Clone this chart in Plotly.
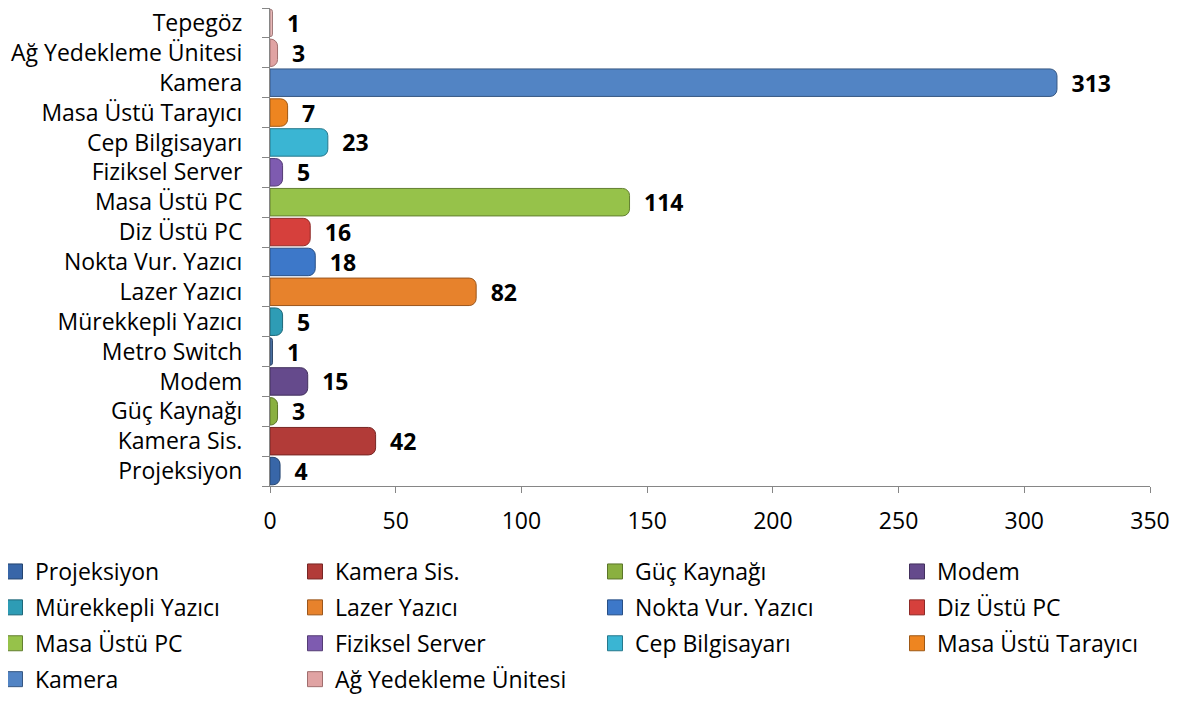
import plotly.graph_objects as go

categories = ["Projeksiyon", "Kamera Sis.", "Güç Kaynağı", "Modem", "Metro Switch",
              "Mürekkepli Yazıcı", "Lazer Yazıcı", "Nokta Vur. Yazıcı", "Diz Üstü PC",
              "Masa Üstü PC", "Fiziksel Server", "Cep Bilgisayarı", "Masa Üstü Tarayıcı",
              "Kamera", "Ağ Yedekleme Ünitesi", "Tepegöz"]
# bar lengths as drawn in the picture
bar_values = [4, 42, 3, 15, 1, 5, 82, 18, 16, 143, 5, 23, 7, 313, 3, 1]
# data labels as printed in the picture
label_texts = ["4", "42", "3", "15", "1", "5", "82", "18", "16", "114", "5", "23", "7", "313", "3", "1"]
# legend column (1-4) for each category; 0 = not in legend
legend_column = [1, 2, 3, 4, 0, 1, 2, 3, 4, 1, 2, 3, 4, 1, 2, 0]
x_ticks = [0, 50, 100, 150, 200, 250, 300, 350]

colors = ["#3866A8", "#B23B38", "#8AB040", "#654A8C", "#4A6FA0",
          "#2E9CB5", "#E7822C", "#3D78C9", "#D6403C",
          "#96C24A", "#7E5BB0", "#3AB5D3", "#EE8520",
          "#5284C4", "#E0A3A3", "#E8B8B8"]
lines = ["#24446F", "#772624", "#5B7529", "#42305D", "#30496A",
         "#1E6778", "#9A561D", "#284F85", "#8E2A27",
         "#637F31", "#543C75", "#26788C", "#9E5815",
         "#365782", "#A06E6E", "#A07C7C"]

font_family = "Open Sans, Noto Sans, sans-serif"
W, H = 1174, 694  # page body has an 8px default margin

fig = go.Figure()
for i, cat in enumerate(categories):
    fig.add_trace(go.Bar(
        y=[cat], x=[bar_values[i]], orientation="h", name=cat,
        text=["\u2002" + label_texts[i]], textposition="outside",
        textfont=dict(family=font_family, size=23, color="#000000", weight="bold"),
        constraintext="none", cliponaxis=False,
        width=0.92,
        marker=dict(color=colors[i], line=dict(color=lines[i], width=1), cornerradius=7),
        showlegend=False,
        hoverinfo="x+name",
    ))

# legend entries (square swatches, drawn only in the legend)
for i, cat in enumerate(categories):
    col = legend_column[i]
    if col == 0:
        continue
    fig.add_trace(go.Scatter(
        x=[None], y=[None], mode="markers", name=cat,
        marker=dict(symbol="square", size=15, color=colors[i], line=dict(color=lines[i], width=1)),
        legend="legend" if col == 1 else "legend%d" % col,
        legendgroup=cat, showlegend=True, hoverinfo="skip",
    ))

legend_x = {1: 0, 2: 287, 3: 587, 4: 889}
legend_indent = {1: -13, 2: 0, 3: 0, 4: 0}
legend_common = dict(
    orientation="v", xref="container", yref="container",
    y=0.219, xanchor="left", yanchor="top",
    itemwidth=30, font=dict(size=23, family=font_family),
    tracegroupgap=3, bgcolor="rgba(0,0,0,0)",
)
legends = {}
for col, px in legend_x.items():
    key = "legend" if col == 1 else "legend%d" % col
    legends[key] = dict(legend_common, x=px / W, indentation=legend_indent[col])

fig.update_layout(
    width=W, height=H,
    margin=dict(l=262, r=32, t=0, b=216, autoexpand=False),
    barmode="overlay",
    plot_bgcolor="white", paper_bgcolor="white",
    font=dict(family=font_family, size=23, color="#000000"),
    **legends,
)
fig.update_xaxes(
    range=[0, 350], tickvals=x_ticks, ticktext=[str(v) for v in x_ticks],
    showgrid=False, zeroline=False, showline=True, linecolor="#868686", linewidth=1,
    ticks="outside", ticklen=6, tickcolor="#868686", ticklabelstandoff=8,
    tickfont=dict(size=23, family=font_family), automargin=False,
)
fig.update_yaxes(
    categoryorder="array", categoryarray=categories,
    range=[-0.5, len(categories) - 0.5],
    showgrid=False, zeroline=False, showline=True, linecolor="#868686", linewidth=1,
    ticks="outside", ticklen=7, tickcolor="#868686", tickson="boundaries",
    ticklabelstandoff=22,
    tickfont=dict(size=23, family=font_family), automargin=False,
)

fig.write_html("out.html")
